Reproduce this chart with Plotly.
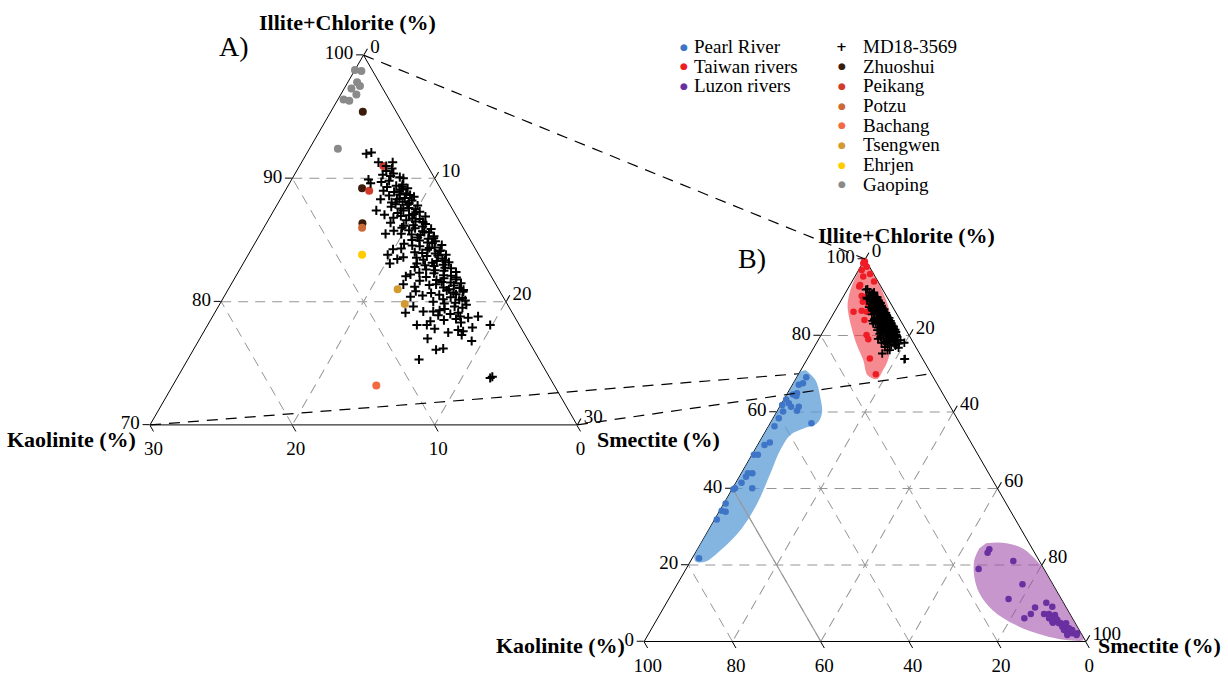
import numpy as np
import plotly.graph_objects as go

W, H = 1228, 675
SERIF = "Liberation Serif, Times New Roman, serif"

# ---------------- data (percent) ----------------
# MD18-3569 core samples: illite+chlorite and kaolinite (smectite = remainder)
md_illite = [92.0, 92.1, 91.3, 91.3, 91.0, 90.8, 90.6,
             90.4, 90.3, 90.1, 90.2, 89.9, 89.6, 90.0, 89.8,
             89.5, 89.4, 89.3, 89.2, 89.1, 89.0, 88.9, 88.8, 88.7, 88.6,
             88.5, 88.4, 88.3, 88.3, 88.2, 88.1, 88.0, 87.9, 87.8, 87.7, 87.6, 87.5,
             87.4, 87.4, 87.3, 87.2, 87.1, 87.0, 86.9, 86.8, 86.7, 86.6, 86.5, 86.4, 86.3,
             86.2, 86.1, 86.0, 85.9, 85.8, 85.7, 85.6, 85.5, 85.5, 85.4, 85.3, 85.2, 85.1, 85.0,
             84.9, 84.8, 84.7, 84.6, 84.5, 84.4, 84.3, 84.2, 84.1, 84.0, 83.9, 83.8, 83.8,
             83.7, 83.6, 83.5, 83.4, 83.3, 83.2, 83.1, 83.1, 83.0, 82.9, 82.8, 82.7, 82.6, 82.5,
             82.4, 82.3, 82.2, 82.1, 82.0, 81.9, 81.8, 81.7, 81.6, 81.5, 81.4, 81.4, 81.3, 81.2, 81.1,
             81.0, 80.9, 80.8, 80.7, 80.6, 80.5, 80.4, 80.3, 80.2, 80.1, 80.0, 79.9,
             79.6, 79.6, 79.4, 79.2, 79.2, 79.1, 79.1, 78.9, 78.8, 78.8, 78.6,
             78.4, 78.1, 78.1, 78.1, 77.8, 77.7, 77.6, 77.3, 77.0, 76.8,
             76.2, 76.1, 75.3, 73.9, 73.8,
             89.7, 89.35, 88.95, 88.65, 88.35, 88.05, 87.85, 87.55, 87.25, 86.95,
             86.75, 86.45, 86.15, 85.95, 85.65, 85.45, 85.15, 84.95, 84.75, 84.55,
             84.35, 84.15, 83.95, 83.75, 83.55, 83.35, 83.15, 82.95, 82.75, 82.55,
             82.35, 82.15, 81.95, 81.75, 81.55, 81.35, 81.15, 80.95, 80.75, 80.55,
             80.35, 80.15, 79.85, 79.75, 79.5, 79.3, 79.0, 78.7, 78.5, 78.3,
             77.9, 77.5, 87.05, 85.75, 84.25, 83.45, 82.05, 80.85]
md_kaolinite = [3.8, 3.4, 3.3, 2.3, 2.9, 2.6, 3.1,
                2.7, 3.5, 2.4, 3.0, 4.7, 4.7, 2.2, 3.3,
                2.5, 3.0, 3.7, 2.3, 2.8, 4.1, 3.4, 2.6, 3.1, 3.9,
                2.2, 2.9, 4.65, 3.5, 2.5, 3.2, 2.8, 3.8, 2.3, 4.2, 3.0, 2.6,
                5.4, 3.5, 2.4, 4.0, 2.9, 3.3, 2.2, 4.5, 2.7, 3.7, 3.1, 4.9, 2.5,
                3.4, 2.8, 4.3, 2.3, 3.9, 3.0, 2.6, 5.7, 4.6, 3.3, 2.4, 3.6, 2.9, 4.1,
                2.5, 3.1, 4.8, 2.2, 3.8, 2.8, 5.2, 3.4, 2.6, 4.4, 3.0, 6.4, 2.3,
                3.7, 5.4, 2.7, 4.1, 3.2, 2.4, 6.6, 4.7, 2.9, 3.6, 5.0, 2.5, 4.3, 3.1,
                2.3, 3.9, 5.6, 2.8, 4.6, 3.4, 2.6, 5.2, 3.7, 2.4, 6.5, 4.2, 3.0, 5.8, 2.7,
                3.5, 3.7, 2.6, 4.9, 3.2, 5.6, 6.5, 2.9, 4.3, 2.8, 5.1, 3.6,
                3.8, 6.7, 4.6, 6.2, 5.5, 3.8, 7.5, 5.3, 3.8, 2.55, 4.2,
                6.1, 2.05, 7.2, 6.5, 6.1, 4.5, 4.2, 4.45, 7.0, 4.0,
                6.3, 6.85, 8.45, 4.0, 4.2,
                3.9, 2.6, 3.0, 2.4, 3.3, 4.0, 3.0, 3.6, 2.7, 3.9,
                3.2, 2.6, 4.1, 3.4, 2.9, 3.9, 2.5, 3.6, 2.8, 4.3,
                3.2, 2.5, 3.9, 2.9, 4.5, 2.6, 3.6, 4.2, 2.9, 3.7,
                4.9, 3.3, 2.5, 4.0, 3.1, 4.7, 3.8, 2.5, 3.3, 4.4,
                3.7, 3.2, 4.4, 2.9, 3.3, 5.0, 4.4, 3.3, 5.1, 4.0,
                3.4, 5.3, 5.0, 5.0, 5.8, 5.9, 6.0, 5.9]

# Taiwan river end-members (panel A)
zhuoshui_illite, zhuoshui_kaolinite = [95.4, 89.2, 86.35], [2.35, 5.5, 6.9]
peikang_illite, peikang_kaolinite = [91.0, 89.0], [3.1, 5.1]
potzu_illite, potzu_kaolinite = [86.0], [7.1]
bachang_illite, bachang_kaolinite = [73.2], [12.5]
tsengwen_illite, tsengwen_kaolinite = [81.0, 79.8], [7.1, 7.2]
ehrjen_illite, ehrjen_kaolinite = [83.8], [8.2]
gaoping_illite = [98.8, 98.7, 97.8, 97.3, 97.5, 96.8, 96.4, 96.3, 92.4]
gaoping_kaolinite = [1.2, 0.8, 1.55, 2.2, 1.5, 2.1, 3.2, 2.85, 5.6]

# Source provinces (panel B)
taiwan_illite = [99.5, 99.2, 98.9, 98.2, 98.0, 97.1, 96.1, 95.4, 94.1, 92.8, 90.3, 88.8, 86.2,
                 86.5, 86.2, 86.5, 84.05, 80.1, 79.0, 74.0, 69.9, 93.2, 90.1, 88.0, 90.6]
taiwan_kaolinite = [0.4, 0.4, 0.94, 1.8, 0.6, 2.2, 0.8, 2.7, 0.9, 4.9, 5.6, 6.1, 9.5,
                    7.5, 6.5, 5.25, 8.1, 9.6, 9.75, 11.9, 12.6, 4.5, 4.6, 5.25, 2.9]

pearl_illite = [69.1, 67.5, 67.1, 64.9, 64.6, 64.2, 63.3, 62.3, 61.8, 61.4, 61.4, 60.3, 60.1,
                58.35, 56.3, 57.05, 52.0, 51.4, 48.8, 48.8, 44.0, 44.0, 43.1, 41.5, 40.05,
                39.8, 40.05, 36.1, 34.2, 33.9, 31.9, 21.75]
pearl_kaolinite = [28.75, 30.3, 31.45, 32.95, 34.0, 33.45, 36.2, 36.1, 37.85, 36.05, 34.3, 35.25,
                   38.5, 40.35, 42.35, 33.6, 45.55, 47.05, 50.75, 49.85, 53.5, 54.5, 55.4, 57.2,
                   59.4, 59.9, 55.5, 63.5, 65.35, 64.6, 67.6, 76.7]

luzon_illite = [24.1, 23.2, 21.05, 18.95, 15.0, 11.1, 10.1, 8.9, 9.1, 7.2, 7.2, 6.9, 7.2, 6.05,
                6.05, 5.6, 4.9, 4.75, 3.85, 3.45, 2.55, 2.15, 2.15, 2.15, 3.0, 4.75, 3.0, 6.05,
                6.05, 5.2, 4.75, 3.45, 1.7, 1.7]
luzon_kaolinite = [9.8, 10.65, 5.9, 14.8, 6.85, 11.95, 3.9, 7.05, 3.05, 5.85, 4.75, 3.55, 8.85,
                   10.9, 4.6, 3.65, 5.0, 3.3, 3.4, 2.8, 2.55, 2.0, 0.9, 3.1, 3.45, 2.1, 1.6, 3.8,
                   5.3, 5.0, 3.7, 2.1, 3.35, 1.25]

# Field outlines of the three provinces (panel B)
taiwan_field_illite = [99.6, 96.0, 93.1, 86.6, 78.8, 73.6, 70.8, 68.6, 69.6, 73.6, 78.0, 82.5,
                       87.7, 90.3, 92.5, 95.9, 98.5]
taiwan_field_kaolinite = [0.2, 0.0, 0.1, 1.2, 4.6, 8.0, 10.6, 13.0, 14.6, 13.6, 13.0, 11.9,
                          10.1, 8.5, 6.9, 3.95, 1.4]
pearl_field_illite = [71.0, 68.4, 64.0, 59.7, 57.0, 55.7, 54.0, 50.1, 44.0, 36.1, 29.15, 23.9,
                      20.9, 20.9, 22.2, 31.8, 43.1, 57.0, 68.4, 70.5]
pearl_field_kaolinite = [28.0, 27.05, 28.15, 29.9, 32.4, 36.05, 39.9, 44.1, 49.4, 56.35, 63.6,
                         70.7, 75.6, 77.85, 77.55, 68.2, 56.9, 43.0, 31.6, 29.5]
luzon_field_illite = [25.7, 25.8, 24.4, 20.9, 17.8, 11.7, 1.25, 0.4, 0.4, 1.7, 4.3, 8.2, 12.6,
                      16.9, 21.3, 24.4]
luzon_field_kaolinite = [9.75, 5.95, 2.15, 0.5, 0.0, 0.0, 0.0, 0.4, 4.35, 9.0, 13.7, 17.0, 17.8,
                         16.8, 14.6, 11.9]

# Solid guide line in panel B (kaolinite = 60 %)
guide_illite = [40, 0]
guide_kaolinite = [60, 60]

legend_left_labels = ["Pearl River", "Taiwan rivers", "Luzon rivers"]
legend_left_colors = ["#3f75c6", "#ee1c25", "#6a2fa0"]
legend_right_labels = ["MD18-3569", "Zhuoshui", "Peikang", "Potzu", "Bachang", "Tsengwen",
                       "Ehrjen", "Gaoping"]
legend_right_colors = ["#000000", "#3b1c0b", "#d43a2a", "#cb6a36", "#f26b40", "#d39a30",
                       "#ffcc00", "#8a8a8a"]

# ---------------- layout geometry ----------------
DOMAIN_A = dict(x=[150 / W, 577 / W], y=[1 - 425 / H, 1 - 55 / H])
DOMAIN_B = dict(x=[643 / W, 1087 / W], y=[1 - 641.5 / H, 1 - 259 / H])
AMIN_A, AMIN_B = 70, 0


def to_paper(domain, amin, a, b, c):
    """Paper coordinates of a ternary point, following plotly's triangle fitting."""
    (dx0, dx1), (dy0, dy1) = domain["x"], domain["y"]
    wmax, hmax = (dx1 - dx0) * W, (dy1 - dy0) * H
    ratio = 2 / np.sqrt(3)
    if wmax > ratio * hmax:
        h = hmax
        w = h * ratio
    else:
        w = wmax
        h = w / ratio
    x0 = W * (dx0 + dx1) / 2 - w / 2
    y0 = H * (1 - (dy0 + dy1) / 2) - h / 2
    span = 100.0 - amin
    fa, fb, fc = (a - amin) / span, b / span, c / span
    px = x0 + w * (fc - fb + 1) / 2
    py = y0 + h * (1 - fa)
    return px / W, 1 - py / H


def axis(dtick, amin=0):
    return dict(min=amin, dtick=dtick, tick0=0, ticks="outside", ticklen=7, tickwidth=1,
                tickcolor="black", linecolor="black", linewidth=1, showgrid=True,
                gridcolor="#959595", gridwidth=1.1, griddash="10px,7px", layer="below traces",
                tickfont=dict(family=SERIF, size=19, color="black"), title=dict(text=""))


def dots(a, b, color, size, subplot):
    return go.Scatterternary(a=a, b=b, mode="markers", subplot=subplot, cliponaxis=False,
                             marker=dict(color=color, size=size, line=dict(width=0)),
                             hoverinfo="skip", showlegend=False)


def crosses(a, b, size, width, subplot):
    return go.Scatterternary(a=a, b=b, mode="markers", subplot=subplot, cliponaxis=False,
                             marker=dict(symbol="cross-thin", size=size, color="black",
                                         line=dict(color="black", width=width)),
                             hoverinfo="skip", showlegend=False)


def field(a, b, fillcolor, subplot):
    return go.Scatterternary(a=a, b=b, mode="lines", subplot=subplot, fill="toself",
                             fillcolor=fillcolor, line=dict(width=0, shape="spline",
                                                            smoothing=1.0, color=fillcolor),
                             hoverinfo="skip", showlegend=False)


fig = go.Figure()

# Panel A: zoomed ternary (illite+chlorite 70-100 %)
fig.add_trace(dots(gaoping_illite, gaoping_kaolinite, legend_right_colors[7], 8, "ternary"))
fig.add_trace(dots(zhuoshui_illite, zhuoshui_kaolinite, legend_right_colors[1], 8, "ternary"))
fig.add_trace(dots(potzu_illite, potzu_kaolinite, legend_right_colors[3], 8, "ternary"))
fig.add_trace(dots(peikang_illite, peikang_kaolinite, legend_right_colors[2], 8, "ternary"))
fig.add_trace(dots(bachang_illite, bachang_kaolinite, legend_right_colors[4], 8, "ternary"))
fig.add_trace(dots(tsengwen_illite, tsengwen_kaolinite, legend_right_colors[5], 8, "ternary"))
fig.add_trace(dots(ehrjen_illite, ehrjen_kaolinite, legend_right_colors[6], 8, "ternary"))
fig.add_trace(crosses(md_illite, md_kaolinite, 6.5, 2.0, "ternary"))

# Panel B: full ternary with the provenance fields
fig.add_trace(field(pearl_field_illite, pearl_field_kaolinite, "rgba(91,155,213,0.75)", "ternary2"))
fig.add_trace(field(taiwan_field_illite, taiwan_field_kaolinite, "rgba(238,60,70,0.6)", "ternary2"))
fig.add_trace(field(luzon_field_illite, luzon_field_kaolinite, "rgba(160,80,170,0.6)", "ternary2"))
fig.add_trace(go.Scatterternary(a=guide_illite, b=guide_kaolinite, mode="lines", subplot="ternary2",
                                line=dict(color="#9a9a9a", width=1.2), hoverinfo="skip",
                                showlegend=False))
fig.add_trace(dots(pearl_illite, pearl_kaolinite, legend_left_colors[0], 6.5, "ternary2"))
fig.add_trace(dots(taiwan_illite, taiwan_kaolinite, legend_left_colors[1], 6.5, "ternary2"))
fig.add_trace(dots(luzon_illite, luzon_kaolinite, legend_left_colors[2], 6.5, "ternary2"))
fig.add_trace(crosses(md_illite, md_kaolinite, 6, 1.8, "ternary2"))

TITLE_FONT = dict(family=SERIF, size=22, color="black")
annotations = []


def title(domain, amin, vertex, text, xanchor, xshift, yshift):
    x, y = to_paper(domain, amin, *vertex)
    annotations.append(dict(x=x, y=y, xref="paper", yref="paper", text="<b>%s</b>" % text,
                            showarrow=False, xanchor=xanchor, yanchor="middle",
                            xshift=xshift, yshift=yshift, font=TITLE_FONT))


title(DOMAIN_A, AMIN_A, (100, 0, 0), "Illite+Chlorite (%)", "center", -16, 33)
title(DOMAIN_A, AMIN_A, (70, 30, 0), "Kaolinite (%)", "right", -12, -15)
title(DOMAIN_A, AMIN_A, (70, 0, 30), "Smectite (%)", "left", 18, -15)
title(DOMAIN_B, AMIN_B, (100, 0, 0), "Illite+Chlorite (%)", "center", 41, 23)
title(DOMAIN_B, AMIN_B, (0, 100, 0), "Kaolinite (%)", "right", -17, -4)
title(DOMAIN_B, AMIN_B, (0, 0, 100), "Smectite (%)", "left", 10, -4)

for label, px, py in [("A)", 234, 47), ("B)", 752, 258)]:
    annotations.append(dict(x=px / W, y=1 - py / H, xref="paper", yref="paper", text=label,
                            showarrow=False, xanchor="center", yanchor="middle",
                            font=dict(family=SERIF, size=28, color="black")))

# Legend rows
ROW0, ROW_STEP = 46.5, 19.7
for i, (label, color) in enumerate(zip(legend_left_labels, legend_left_colors)):
    y = 1 - (ROW0 + i * ROW_STEP) / H
    annotations.append(dict(x=684 / W, y=y, xref="paper", yref="paper", text="●",
                            showarrow=False, xanchor="center", yanchor="middle",
                            font=dict(family="DejaVu Sans", size=9, color=color)))
    annotations.append(dict(x=692 / W, y=y, xref="paper", yref="paper", text=label,
                            showarrow=False, xanchor="left", yanchor="middle",
                            font=dict(family=SERIF, size=19, color="black")))
for i, (label, color) in enumerate(zip(legend_right_labels, legend_right_colors)):
    y = 1 - (ROW0 + i * ROW_STEP) / H
    glyph, gsize = ("<b>+</b>", 13) if i == 0 else ("●", 9)
    annotations.append(dict(x=841.5 / W, y=y, xref="paper", yref="paper", text=glyph,
                            showarrow=False, xanchor="center", yanchor="middle",
                            font=dict(family="DejaVu Sans", size=gsize, color=color)))
    annotations.append(dict(x=861 / W, y=y, xref="paper", yref="paper", text=label,
                            showarrow=False, xanchor="left", yanchor="middle",
                            font=dict(family=SERIF, size=19, color="black")))

# Dashed connectors: corners of panel A to the matching points of panel B
shapes = []
for corner in [(100, 0, 0), (70, 30, 0), (70, 0, 30)]:
    x0, y0 = to_paper(DOMAIN_A, AMIN_A, *corner)
    x1, y1 = to_paper(DOMAIN_B, AMIN_B, *corner)
    shapes.append(dict(type="line", xref="paper", yref="paper", x0=x0, y0=y0, x1=x1, y1=y1,
                       line=dict(color="black", width=1.2, dash="11px,8px")))

fig.update_layout(
    width=W, height=H,
    margin=dict(l=0, r=0, t=0, b=0),
    paper_bgcolor="white",
    showlegend=False,
    ternary=dict(domain=DOMAIN_A, sum=100, bgcolor="white",
                 aaxis=axis(10, AMIN_A), baxis=axis(10), caxis=axis(10)),
    ternary2=dict(domain=DOMAIN_B, sum=100, bgcolor="rgba(0,0,0,0)",
                  aaxis=axis(20), baxis=axis(20), caxis=axis(20)),
    annotations=annotations,
    shapes=shapes,
)

fig.write_html("out.html")
